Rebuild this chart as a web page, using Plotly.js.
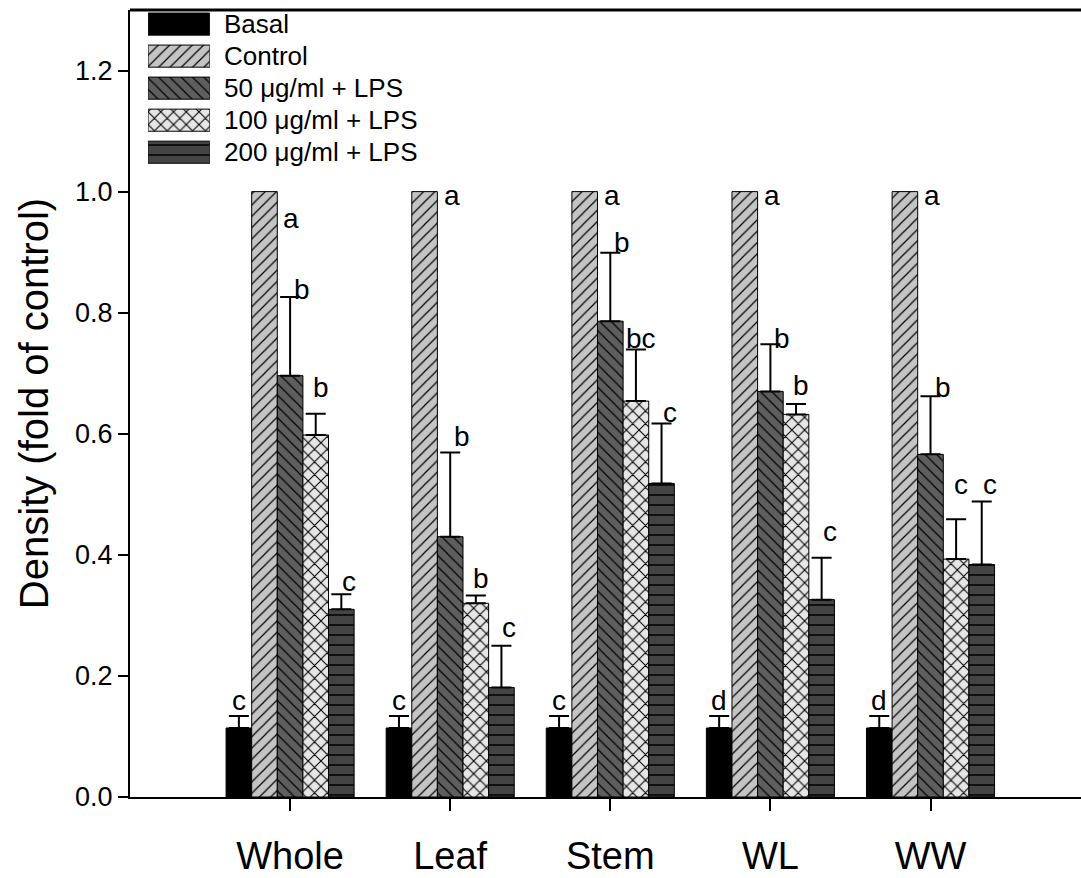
<!DOCTYPE html>
<html>
<head>
<meta charset="utf-8">
<script src="https://cdn.plot.ly/plotly-3.0.1.min.js"></script>
<style>html,body{margin:0;padding:0;background:#fff;}#chart{width:1081px;height:878px;}</style>
</head>
<body>
<div id="chart"></div>
<script>
// ---- data ----
const categories = ["Whole", "Leaf", "Stem", "WL", "WW"];
const seriesNames = ["Basal", "Control", "50 \u03bcg/ml + LPS", "100 \u03bcg/ml + LPS", "200 \u03bcg/ml + LPS"];
const basal      = [0.114, 0.114, 0.114, 0.114, 0.114];
const basalErr   = [0.020, 0.020, 0.020, 0.020, 0.020];
const control    = [1.0, 1.0, 1.0, 1.0, 1.0];
const controlErr = [0, 0, 0, 0, 0];
const lps50      = [0.696, 0.430, 0.786, 0.670, 0.566];
const lps50Err   = [0.130, 0.139, 0.113, 0.078, 0.096];
const lps100     = [0.598, 0.320, 0.654, 0.632, 0.393];
const lps100Err  = [0.035, 0.013, 0.085, 0.017, 0.066];
const lps200     = [0.310, 0.181, 0.518, 0.326, 0.384];
const lps200Err  = [0.025, 0.069, 0.099, 0.069, 0.104];
// significance letters (per series, per category) and their heights
const letters = [
  ["c", "c", "c", "d", "d"],
  ["a", "a", "a", "a", "a"],
  ["b", "b", "b", "b", "b"],
  ["b", "b", "bc", "b", "c"],
  ["c", "c", "c", "c", "c"]
];
const letterY = [
  [0.159, 0.159, 0.159, 0.159, 0.159],
  [0.956, 0.993, 0.993, 0.993, 0.993],
  [0.838, 0.595, 0.916, 0.757, 0.676],
  [0.676, 0.361, 0.757, 0.679, 0.517],
  [0.356, 0.280, 0.635, 0.439, 0.517]
];
const yTicks = [0, 0.2, 0.4, 0.6, 0.8, 1.0, 1.2];

// ---- styles ----
const FONT = "Liberation Sans, Arial, Helvetica, sans-serif";
const values = [basal, control, lps50, lps100, lps200];
const errs = [basalErr, controlErr, lps50Err, lps100Err, lps200Err];
const shapes = ["", "/", "\\", "x", "-"];
const bgs = ["#000000", "#c4c4c4", "#5e5e5e", "#e6e6e6", "#444444"];
const sizes = [8, 8, 8, 9, 10];
const solid = [0.15, 0.15, 0.15, 0.22, 0.15];
const letterShiftPx = [0, 27, 12, 5, 8];

function pattern(k) {
  return {shape: shapes[k], bgcolor: bgs[k], fgcolor: "#000", size: sizes[k], solidity: solid[k], fillmode: "replace"};
}

const xIdx = categories.map((_, i) => i);
const traces = values.map((v, k) => ({
  type: "bar",
  name: seriesNames[k],
  x: xIdx,
  y: v,
  showlegend: false,
  marker: {color: bgs[k], line: {color: "#000", width: 1}, pattern: pattern(k)},
  error_y: k === 1 ? {visible: false} : {
    type: "data", symmetric: false, array: errs[k], arrayminus: v.map(() => 0),
    color: "#000", thickness: 2, width: 10
  },
  hoverinfo: "skip"
}));

// legend swatches as a small inset bar chart (one horizontal bar per series)
seriesNames.forEach((s, k) => {
  traces.push({
    type: "bar",
    orientation: "h",
    x: [1], y: [k], base: 0, width: 0.69,
    offsetgroup: "legend",
    xaxis: "x2", yaxis: "y2",
    showlegend: false, hoverinfo: "skip",
    marker: {color: bgs[k], line: {color: "#000", width: 1}, pattern: pattern(k)}
  });
});

const annotations = [];
const groupW = 0.8, nS = 5, barW = groupW / nS;
letters.forEach((row, k) => {
  row.forEach((t, i) => {
    annotations.push({
      xref: "x", yref: "y",
      x: i + (k - 2) * barW, y: letterY[k][i],
      xshift: letterShiftPx[k],
      text: t, showarrow: false,
      xanchor: "center", yanchor: "middle",
      font: {family: FONT, size: 28, color: "#000"}
    });
  });
});
seriesNames.forEach((s, k) => {
  annotations.push({
    xref: "x2", yref: "y2", x: 1, y: k, xshift: 12,
    text: s, showarrow: false, xanchor: "left", yanchor: "middle",
    font: {family: FONT, size: 26, color: "#000"}
  });
});

const layout = {
  width: 1081, height: 878,
  margin: {l: 130, r: 0, t: 10, b: 81},
  paper_bgcolor: "#fff", plot_bgcolor: "#fff",
  barmode: "group", bargap: 0.2, bargroupgap: 0,
  showlegend: false,
  font: {family: FONT, color: "#000"},
  xaxis: {
    range: [-1.0, 4.94],
    tickvals: xIdx, ticktext: categories,
    ticks: "outside", ticklen: 12, tickwidth: 2, tickcolor: "#000",
    showline: true, linewidth: 2, linecolor: "#000",
    showgrid: false, zeroline: false,
    tickfont: {family: FONT, size: 38, color: "#000"},
    ticklabelstandoff: 12,
    fixedrange: true
  },
  yaxis: {
    range: [0, 1.3],
    tickvals: yTicks, tickformat: ".1f",
    ticks: "outside", ticklen: 10, tickwidth: 2, tickcolor: "#000",
    showline: true, linewidth: 2, linecolor: "#000",
    showgrid: false, zeroline: false,
    tickfont: {family: FONT, size: 27, color: "#000"},
    title: {text: "Density (fold of control)", font: {family: FONT, size: 40, color: "#000"}, standoff: 14},
    fixedrange: true
  },
  xaxis2: {domain: [0.019, 0.084], range: [0, 1], anchor: "y2", visible: false, fixedrange: true},
  yaxis2: {domain: [0.79, 1.0], range: [4.72, -0.44], anchor: "x2", visible: false, fixedrange: true},
  shapes: [{type: "line", xref: "paper", yref: "paper", x0: 0, x1: 1, y0: 1, y1: 1, line: {color: "#000", width: 3}}],
  annotations: annotations
};

Plotly.newPlot("chart", traces, layout, {displayModeBar: false, staticPlot: true});
</script>
</body>
</html>
